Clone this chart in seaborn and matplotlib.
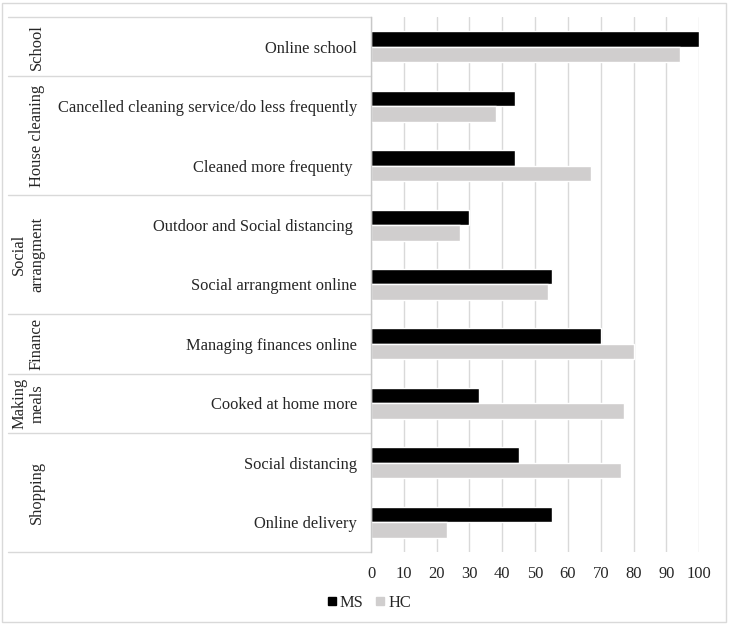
import pandas as pd
import seaborn as sns
import matplotlib.pyplot as plt
import matplotlib.transforms as mtransforms
from matplotlib.lines import Line2D
from matplotlib.patches import Rectangle

# data
activities = [
    "Online school",
    "Cancelled cleaning service/do less frequently",
    "Cleaned more frequenty ",
    "Outdoor and Social distancing ",
    "Social arrangment online",
    "Managing finances online",
    "Cooked at home more",
    "Social distancing",
    "Online delivery",
]
ms_values = [100, 44, 44, 30, 55, 70, 33, 45, 55]
hc_values = [94, 38, 67, 27, 54, 80, 77, 76, 23]

group_names = ["School", "House cleaning", "Social\narrangment", "Finance", "Making\nmeals", "Shopping"]
group_sizes = [1, 2, 2, 1, 1, 2]

series = ["MS", "HC"]
colors = {"MS": "#000000", "HC": "#D0CECE"}
line_col = "#D9D9D9"
fs = 11.9

df = pd.DataFrame({
    "activity": activities * 2,
    "value": ms_values + hc_values,
    "group": ["MS"] * len(activities) + ["HC"] * len(activities),
})

sns.set_style("white")
plt.rcParams["font.family"] = ["Liberation Serif", "DejaVu Serif"]

fig = plt.figure(figsize=(7.29, 6.24), dpi=100)
ax = fig.add_axes([371 / 729, 1 - 552 / 624, (699.3 - 371) / 729, (552 - 17) / 624])

sns.barplot(
    data=df,
    y="activity",
    x="value",
    hue="group",
    hue_order=series,
    order=activities,
    palette=colors,
    orient="h",
    width=0.52,
    gap=0,
    saturation=1,
    legend=False,
    ax=ax,
)

ax.set_xlim(0, 100)
ax.set_ylim(len(activities) - 0.5, -0.5)
ax.set_xticks(range(0, 101, 10))
ax.xaxis.grid(True, color=line_col, linewidth=1)
ax.set_axisbelow(True)
ax.set_xlabel("")
ax.set_ylabel("")
ax.tick_params(axis="y", length=0, pad=10, labelsize=fs)
ax.tick_params(axis="x", length=0, pad=10, labelsize=fs)

for s in ["top", "right", "bottom"]:
    ax.spines[s].set_visible(False)
ax.spines["left"].set_color("#C8C8C8")
ax.spines["left"].set_linewidth(1)

# left table with group labels
trans = mtransforms.blended_transform_factory(fig.transFigure, ax.transData)
x0 = 8 / 729
x1 = 371 / 729
bounds = [-0.5]
for size in group_sizes:
    bounds.append(bounds[-1] + size)
for b in bounds:
    ax.add_line(Line2D([x0, x1], [b, b], transform=trans, color=line_col,
                       linewidth=1, clip_on=False))
for name, lo, hi in zip(group_names, bounds[:-1], bounds[1:]):
    xc = 28.5 / 729 if "\n" in name else 37 / 729
    ax.text(xc, (lo + hi) / 2, name, transform=trans, rotation=90,
            ha="center", va="center", multialignment="center",
            fontsize=fs, linespacing=1.2)

# legend
handles = [
    Line2D([], [], marker="s", linestyle="", markersize=6,
           markerfacecolor=colors[s], markeredgecolor=colors[s], label=s)
    for s in series
]
fig.legend(handles=handles, loc="center", bbox_to_anchor=(0.505, 1 - 603 / 624),
           ncol=2, frameon=False, fontsize=fs, handletextpad=0.1,
           columnspacing=0.6, handlelength=0.8)

# outer border
fig.patches.append(Rectangle((2 / 729, 2 / 624), 724 / 729, 619 / 624,
                             transform=fig.transFigure, fill=False,
                             edgecolor=line_col, linewidth=1))

fig.savefig("out.png", dpi=100)
